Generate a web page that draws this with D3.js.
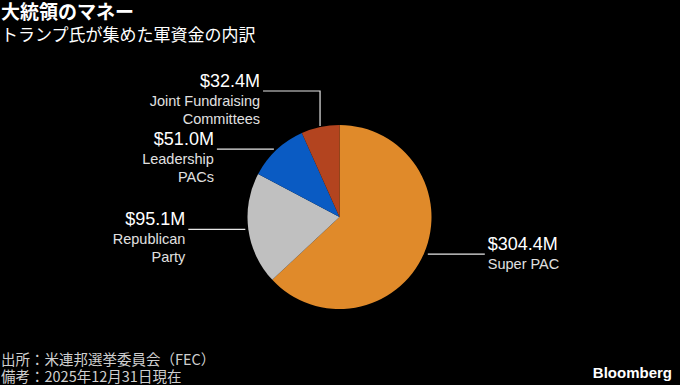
<!DOCTYPE html>
<html>
<head>
<meta charset="utf-8">
<script src="https://cdn.jsdelivr.net/npm/d3@7"></script>
<style>
  body { margin: 0; background: #000; }
  svg { display: block; }
  text { font-family: "Liberation Sans", "Noto Sans CJK JP", sans-serif; }
  .jp { font-family: "Noto Sans CJK JP", "Liberation Sans", sans-serif; }
</style>
</head>
<body>
<div id="chart"></div>
<script>
// data
var categories = ["Super PAC", "Republican Party", "Leadership PACs", "Joint Fundraising Committees"];
var labelLines = [["Super PAC"], ["Republican", "Party"], ["Leadership", "PACs"], ["Joint Fundraising", "Committees"]];
var values = [304.4, 95.1, 51.0, 32.4];
var colors = ["#e08a2a", "#c0c0c0", "#0a5bc3", "#b3441f"];

var w = 680, h = 385;
var cx = 339.5, cy = 217, radius = 92;
var lineLen = 57;

var svg = d3.select("#chart")
    .append("svg")
    .attr("width", w)
    .attr("height", h);

svg.append("rect").attr("width", w).attr("height", h).attr("fill", "#000");

// titles
svg.append("text")
    .attr("class", "jp")
    .attr("x", 1)
    .attr("y", 19)
    .attr("fill", "#fff")
    .style("font-size", "19px")
    .attr("font-weight", "bold")
    .text("大統領のマネー");

svg.append("text")
    .attr("class", "jp")
    .attr("x", 1)
    .attr("y", 41)
    .attr("fill", "#fff")
    .style("font-size", "17px")
    .text("トランプ氏が集めた軍資金の内訳");

var color = d3.scaleOrdinal().domain(categories).range(colors);

var pie = d3.pie().sort(null);
var piedata = pie(values);

var arc = d3.arc().innerRadius(0).outerRadius(radius);
var edge = d3.arc().innerRadius(radius + 1).outerRadius(radius + 1);

var g = svg.append("g")
    .attr("transform", "translate(" + cx + "," + cy + ")");

g.selectAll("path")
    .data(piedata)
    .enter()
    .append("path")
    .attr("d", arc)
    .attr("fill", function(d, i) { return color(categories[i]); });

// leader lines + labels
var fmt = d3.format(".1f");
var elbowY = -126; // only used by the small top slice

piedata.forEach(function(d, i) {
    var p = edge.centroid(d);
    var mid = (d.startAngle + d.endAngle) / 2;
    var right = mid < Math.PI;
    var pts, ly;
    if (mid > Math.PI * 1.85) {
        // small slice near the top: go up first, then left
        ly = elbowY;
        pts = [[p[0], p[1]], [p[0], ly], [p[0] - lineLen, ly]];
    } else {
        ly = p[1];
        pts = right ? [[p[0] + 3, ly], [p[0] + 3 + lineLen, ly]]
                    : [[p[0] - 2, ly], [p[0] - 2 - lineLen, ly]];
    }
    g.append("path")
        .attr("d", d3.line()(pts))
        .attr("fill", "none")
        .attr("stroke", "#e6e6e6")
        .attr("stroke-width", 1.2);

    var end = pts[pts.length - 1];
    var tx = right ? end[0] + 3 : end[0] - 3;
    var anchor = right ? "start" : "end";

    g.append("text")
        .attr("x", tx)
        .attr("y", ly - 4)
        .attr("text-anchor", anchor)
        .attr("fill", "#fff")
        .style("font-size", "18px")
        .text("$" + fmt(values[i]) + "M");

    labelLines[i].forEach(function(s, j) {
        g.append("text")
            .attr("x", tx)
            .attr("y", ly + 15 + j * 18)
            .attr("text-anchor", anchor)
            .attr("fill", "#e0e0e0")
            .style("font-size", "14.5px")
            .text(s);
    });
});

// footer
svg.append("text")
    .attr("class", "jp")
    .attr("x", 1)
    .attr("y", 365)
    .attr("fill", "#cfcfcf")
    .style("font-size", "14.5px")
    .text("出所：米連邦選挙委員会（FEC）");

svg.append("text")
    .attr("class", "jp")
    .attr("x", 1)
    .attr("y", 382)
    .attr("fill", "#cfcfcf")
    .style("font-size", "14.5px")
    .text("備考：2025年12月31日現在");

svg.append("text")
    .attr("x", 672)
    .attr("y", 378)
    .attr("text-anchor", "end")
    .attr("fill", "#fff")
    .style("font-size", "15px")
    .attr("font-weight", "bold")
    .text("Bloomberg");
</script>
</body>
</html>
